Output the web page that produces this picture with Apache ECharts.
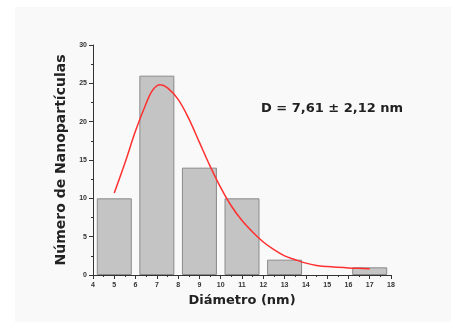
<!DOCTYPE html>
<html><head><meta charset="utf-8">
<script src="https://cdn.jsdelivr.net/npm/echarts@6/dist/echarts.min.js"></script>
<style>html,body{margin:0;padding:0;background:#fff}#c{width:451px;height:322px}</style>
</head><body><div id="c"></div>
<script>
const binCenters = [5, 7, 9, 11, 13, 17];
const counts = [10, 26, 14, 10, 2, 1];
const fitX = [5.0, 5.5, 6.0, 6.5, 6.8, 7.15, 7.5, 8.0, 8.5, 9.0, 9.5, 10.0, 10.5, 11.0, 11.5, 12.0, 12.5, 13.0, 13.5, 14.0, 14.5, 15.0, 15.5, 16.0, 16.5, 17.0];
const fitY = [10.7, 14.6, 18.8, 22.4, 24.1, 24.8, 24.4, 22.9, 20.4, 17.3, 14.2, 11.4, 9.0, 7.1, 5.6, 4.3, 3.3, 2.5, 2.0, 1.55, 1.25, 1.1, 1.0, 0.92, 0.87, 0.83];
const xTicks = {min: 4, max: 18, interval: 1};
const yTicks = {min: 0, max: 30, interval: 5};
const annotation = 'D = 7,61 ± 2,12 nm';

const chart = echarts.init(document.getElementById('c'));
const lbl = {fontFamily: 'Liberation Sans', fontSize: 7, fontWeight: 'bold', color: '#333'};
chart.setOption({
  animation: false,
  backgroundColor: '#ffffff',
  graphic: [
    {type: 'rect', z: -10, shape: {x: 15, y: 7, width: 436, height: 315}, style: {fill: '#f9f9f9'}},
    {type: 'text', left: 261, top: 102, style: {text: annotation, fontFamily: 'DejaVu Sans', fontSize: 13, fontWeight: 'bold', fill: '#222'}}
  ],
  grid: {left: 93, right: 60, top: 45, bottom: 47},
  xAxis: {
    type: 'value', min: xTicks.min, max: xTicks.max, interval: xTicks.interval,
    name: 'Diámetro (nm)', nameLocation: 'middle', nameGap: 18,
    nameTextStyle: {fontFamily: 'DejaVu Sans', fontSize: 13, fontWeight: 'bold', color: '#222'},
    axisLine: {show: true, onZero: false, lineStyle: {color: '#333', width: 1}},
    axisTick: {show: true, length: 4, lineStyle: {color: '#333'}},
    minorTick: {show: true, splitNumber: 2, length: 2, lineStyle: {color: '#333'}},
    axisLabel: Object.assign({margin: 7}, lbl),
    splitLine: {show: false}
  },
  yAxis: {
    type: 'value', min: yTicks.min, max: yTicks.max, interval: yTicks.interval,
    name: 'Número de Nanopartículas', nameLocation: 'middle', nameGap: 13,
    nameTextStyle: {fontFamily: 'DejaVu Sans', fontSize: 14, fontWeight: 'bold', color: '#222'},
    axisLine: {show: true, lineStyle: {color: '#333', width: 1}},
    axisTick: {show: true, length: 4, lineStyle: {color: '#333'}},
    minorTick: {show: true, splitNumber: 2, length: 2, lineStyle: {color: '#333'}},
    axisLabel: Object.assign({margin: 6}, lbl),
    splitLine: {show: false}
  },
  series: [
    {
      type: 'bar', barWidth: 35,
      data: binCenters.map((x, i) => [x, counts[i]]),
      itemStyle: {color: '#c4c4c4', borderColor: '#8a8a8a', borderWidth: 1}
    },
    {
      type: 'line', smooth: 0.35, symbol: 'none',
      data: fitX.map((x, i) => [x, fitY[i]]),
      lineStyle: {color: '#ff3030', width: 1.5}, z: 5
    }
  ]
});
</script></body></html>
